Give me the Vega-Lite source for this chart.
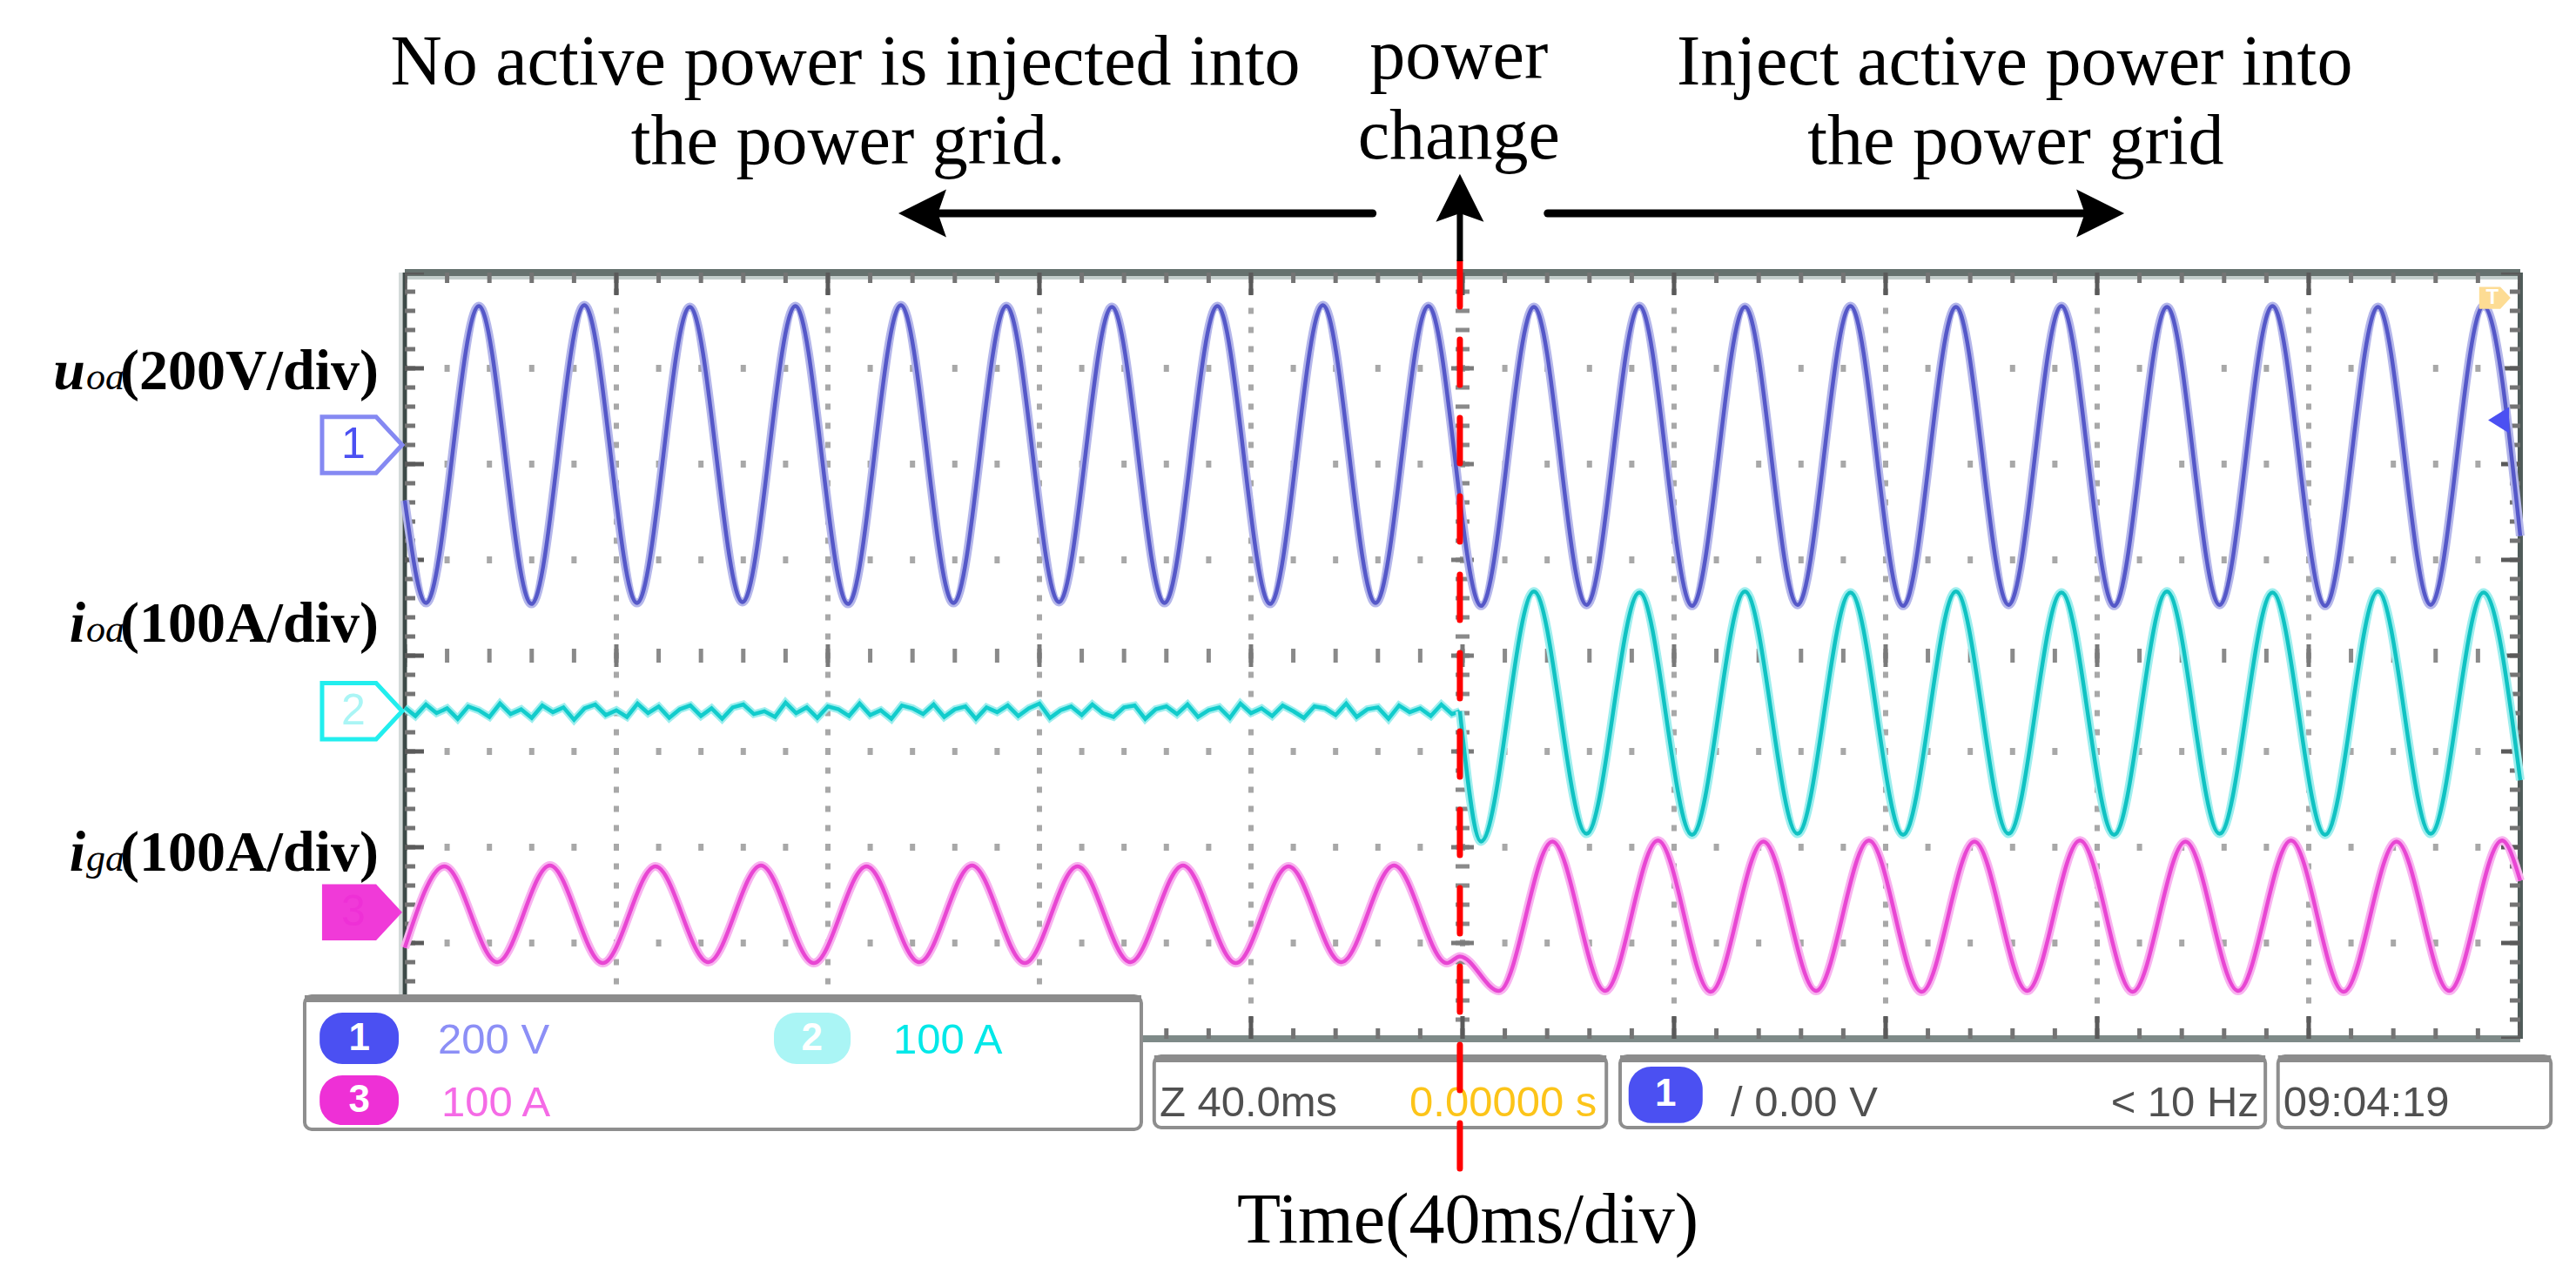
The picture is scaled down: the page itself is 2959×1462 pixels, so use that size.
{
"$schema":"https://vega.github.io/schema/vega-lite/v6.json",
"width":2959,"height":1462,
"autosize":{"type":"fit","contains":"padding"},
"padding":0,
"background":"white",
"config":{"view":{"stroke":null}},
"datasets":{
"vgrid":[{"t":40},{"t":80},{"t":120},{"t":160},{"t":240},{"t":280},{"t":320},{"t":360}],
"hgrid":[{"v":1},{"v":2},{"v":3},{"v":5},{"v":6},{"v":7}],
"center":[{"t":200,"v":4}],
"frame":[{"t0":0,"t1":400,"v0":0,"v1":8}],
"uoa":[{"t":0,"v":5.62},{"t":4.0,"v":4.55},{"t":14.0,"v":7.65},{"t":23.95,"v":4.54},{"t":33.95,"v":7.66},{"t":43.9,"v":4.55},{"t":53.9,"v":7.64},{"t":63.85,"v":4.56},{"t":73.85,"v":7.65},{"t":83.8,"v":4.54},{"t":93.8,"v":7.66},{"t":103.75,"v":4.55},{"t":113.75,"v":7.65},{"t":123.7,"v":4.56},{"t":133.7,"v":7.64},{"t":143.65,"v":4.55},{"t":153.65,"v":7.65},{"t":163.6,"v":4.54},{"t":173.6,"v":7.66},{"t":183.55,"v":4.55},{"t":193.55,"v":7.65},{"t":203.5,"v":4.52},{"t":213.5,"v":7.64},{"t":223.45,"v":4.53},{"t":233.45,"v":7.65},{"t":243.4,"v":4.52},{"t":253.4,"v":7.64},{"t":263.35,"v":4.53},{"t":273.35,"v":7.65},{"t":283.3,"v":4.52},{"t":293.3,"v":7.64},{"t":303.25,"v":4.53},{"t":313.25,"v":7.65},{"t":323.2,"v":4.52},{"t":333.2,"v":7.64},{"t":343.15,"v":4.53},{"t":353.15,"v":7.65},{"t":363.1,"v":4.52},{"t":373.1,"v":7.64},{"t":383.05,"v":4.53},{"t":393.05,"v":7.65},{"t":400,"v":5.25}],
"ioa_flat":[{"t":0,"v":3.46},{"t":2,"v":3.37},{"t":4,"v":3.49},{"t":6,"v":3.40},{"t":8,"v":3.45},{"t":10,"v":3.34},{"t":12,"v":3.47},{"t":14,"v":3.43},{"t":16,"v":3.36},{"t":18,"v":3.50},{"t":20,"v":3.39},{"t":22,"v":3.44},{"t":24,"v":3.35},{"t":26,"v":3.48},{"t":28,"v":3.41},{"t":30,"v":3.46},{"t":32,"v":3.33},{"t":34,"v":3.45},{"t":36,"v":3.49},{"t":38,"v":3.38},{"t":40,"v":3.43},{"t":42,"v":3.36},{"t":44,"v":3.50},{"t":46,"v":3.40},{"t":48,"v":3.47},{"t":50,"v":3.35},{"t":52,"v":3.44},{"t":54,"v":3.48},{"t":56,"v":3.37},{"t":58,"v":3.45},{"t":60,"v":3.34},{"t":62,"v":3.46},{"t":64,"v":3.49},{"t":66,"v":3.39},{"t":68,"v":3.42},{"t":70,"v":3.36},{"t":72,"v":3.51},{"t":74,"v":3.40},{"t":76,"v":3.46},{"t":78,"v":3.35},{"t":80,"v":3.47},{"t":82,"v":3.44},{"t":84,"v":3.37},{"t":86,"v":3.50},{"t":88,"v":3.38},{"t":90,"v":3.43},{"t":92,"v":3.34},{"t":94,"v":3.48},{"t":96,"v":3.45},{"t":98,"v":3.39},{"t":100,"v":3.49},{"t":102,"v":3.36},{"t":104,"v":3.44},{"t":106,"v":3.47},{"t":108,"v":3.34},{"t":110,"v":3.46},{"t":112,"v":3.41},{"t":114,"v":3.48},{"t":116,"v":3.37},{"t":118,"v":3.45},{"t":120,"v":3.50},{"t":122,"v":3.35},{"t":124,"v":3.43},{"t":126,"v":3.47},{"t":128,"v":3.38},{"t":130,"v":3.49},{"t":132,"v":3.40},{"t":134,"v":3.36},{"t":136,"v":3.46},{"t":138,"v":3.48},{"t":140,"v":3.34},{"t":142,"v":3.44},{"t":144,"v":3.47},{"t":146,"v":3.39},{"t":148,"v":3.49},{"t":150,"v":3.36},{"t":152,"v":3.43},{"t":154,"v":3.46},{"t":156,"v":3.35},{"t":158,"v":3.50},{"t":160,"v":3.40},{"t":162,"v":3.45},{"t":164,"v":3.37},{"t":166,"v":3.48},{"t":168,"v":3.42},{"t":170,"v":3.35},{"t":172,"v":3.47},{"t":174,"v":3.45},{"t":176,"v":3.38},{"t":178,"v":3.50},{"t":180,"v":3.36},{"t":182,"v":3.44},{"t":184,"v":3.46},{"t":186,"v":3.34},{"t":188,"v":3.48},{"t":190,"v":3.41},{"t":192,"v":3.45},{"t":194,"v":3.37},{"t":196,"v":3.49},{"t":198,"v":3.39},{"t":199.5,"v":3.42}],
"ioa_wave":[{"t":199.5,"v":3.42},{"t":203.5,"v":2.06},{"t":213.5,"v":4.67},{"t":223.45,"v":2.14},{"t":233.45,"v":4.66},{"t":243.4,"v":2.13},{"t":253.4,"v":4.67},{"t":263.35,"v":2.14},{"t":273.35,"v":4.66},{"t":283.3,"v":2.13},{"t":293.3,"v":4.67},{"t":303.25,"v":2.14},{"t":313.25,"v":4.66},{"t":323.2,"v":2.13},{"t":333.2,"v":4.67},{"t":343.15,"v":2.14},{"t":353.15,"v":4.66},{"t":363.1,"v":2.13},{"t":373.1,"v":4.67},{"t":383.05,"v":2.14},{"t":393.05,"v":4.66},{"t":400,"v":2.70}],
"iga":[{"t":0,"v":0.95},{"t":7.5,"v":1.80},{"t":17.48,"v":0.80},{"t":27.45,"v":1.81},{"t":37.43,"v":0.79},{"t":47.4,"v":1.80},{"t":57.38,"v":0.80},{"t":67.35,"v":1.81},{"t":77.33,"v":0.79},{"t":87.3,"v":1.80},{"t":97.28,"v":0.80},{"t":107.25,"v":1.81},{"t":117.23,"v":0.79},{"t":127.2,"v":1.80},{"t":137.18,"v":0.80},{"t":147.15,"v":1.81},{"t":157.13,"v":0.79},{"t":167.1,"v":1.80},{"t":177.08,"v":0.80},{"t":187.05,"v":1.81},{"t":197.03,"v":0.79},{"t":199.5,"v":0.86},{"t":206.9,"v":0.50},{"t":217.0,"v":2.06},{"t":226.95,"v":0.50},{"t":236.95,"v":2.07},{"t":246.9,"v":0.49},{"t":256.9,"v":2.06},{"t":266.85,"v":0.50},{"t":276.85,"v":2.07},{"t":286.8,"v":0.49},{"t":296.8,"v":2.06},{"t":306.75,"v":0.50},{"t":316.75,"v":2.07},{"t":326.7,"v":0.49},{"t":336.7,"v":2.06},{"t":346.65,"v":0.50},{"t":356.65,"v":2.07},{"t":366.6,"v":0.49},{"t":376.6,"v":2.06},{"t":386.55,"v":0.50},{"t":396.55,"v":2.07},{"t":400,"v":1.65}],
"change":[{"t":199.5,"v0":-1.409,"v1":8.118}],
"vshaft":[{"t":199.5,"v0":8.118,"v1":8.75}],
"hshaft":[{"t":100.0,"t2":183.0,"v":8.618},{"t":216.1,"t2":318.5,"v":8.618}],
"heads":[{"t":97.86,"v":8.618,"dir":"left"},{"t":320.6,"v":8.618,"dir":"right"},{"t":199.5,"v":8.78,"dir":"up"}],
"boxes":[{"t":-18.93,"t2":139.26,"v":0.445,"v2":-0.945},{"t":141.7,"t2":227.2,"v":-0.182,"v2":-0.927},{"t":229.8,"t2":351.8,"v":-0.182,"v2":-0.927},{"t":354.2,"t2":405.8,"v":-0.182,"v2":-0.927}],
"badges":[{"t":-16.1,"t2":-1.15,"v":0.273,"v2":-0.264,"tc":-8.6,"vc":0.0,"c":"b1","d":"1"},{"t":69.8,"t2":84.3,"v":0.273,"v2":-0.264,"tc":77.0,"vc":0.0,"c":"b2","d":"2"},{"t":-16.1,"t2":-1.15,"v":-0.382,"v2":-0.9,"tc":-8.6,"vc":-0.641,"c":"b3","d":"3"},{"t":231.4,"t2":245.4,"v":-0.29,"v2":-0.88,"tc":238.4,"vc":-0.585,"c":"b1","d":"1"}],
"stext_l":[{"t":6.26,"v":-0.155,"text":"200 V","c":"blue"},{"t":92.35,"v":-0.155,"text":"100 A","c":"cyan"},{"t":6.9,"v":-0.809,"text":"100 A","c":"pink"},{"t":142.7,"v":-0.809,"text":"Z 40.0ms","c":"gray"},{"t":250.7,"v":-0.809,"text":"/ 0.00 V","c":"gray"},{"t":355.2,"v":-0.809,"text":"09:04:19","c":"gray"}],
"stext_r":[{"t":225.4,"v":-0.809,"text":"0.00000 s","c":"yellow"},{"t":350.6,"v":-0.809,"text":"< 10 Hz","c":"gray"}],
"markers":[{"t":-8.07,"v":6.2,"d":"1"},{"t":-8.07,"v":3.42,"d":"2"},{"t":-8.07,"v":1.32,"d":"3"}],
"lab_main":[{"t":-4.94,"v":6.78,"text":"(200V/div)"},{"t":-4.94,"v":4.145,"text":"(100A/div)"},{"t":-4.94,"v":1.755,"text":"(100A/div)"}],
"lab_sub":[{"t":-53.0,"v":6.78,"text":"oa"},{"t":-53.0,"v":4.145,"text":"oa"},{"t":-53.0,"v":1.755,"text":"ga"}],
"lab_sym":[{"t":-60.4,"v":6.78,"text":"u"},{"t":-60.4,"v":4.145,"text":"i"},{"t":-60.4,"v":1.755,"text":"i"}],
"annot":[{"t":83.3,"v":9.964,"text":"No active power is injected into"},{"t":83.8,"v":9.136,"text":"the power grid."},{"t":199.3,"v":10.027,"text":"power"},{"t":199.3,"v":9.19,"text":"change"},{"t":304.4,"v":9.964,"text":"Inject active power into"},{"t":304.6,"v":9.136,"text":"the power grid"},{"t":201.0,"v":-2.127,"text":"Time(40ms/div)"}],
"trig":[{"t":395.2,"v":7.736}],
"ref1":[{"t":396.4,"v":6.46}]
},
"layer":[
{"data":{"name":"vgrid"},"mark":{"type":"rule","strokeWidth":6,"strokeDash":[7,15],"strokeDashOffset":3.5,"color":"#a8a8a8"},
 "encoding":{"x":{"field":"t","type":"quantitative","scale":{"domain":[-76.54,410.54],"nice":false,"zero":false},"axis":null},"y":{"datum":0,"type":"quantitative","scale":{"domain":[-2.4455,10.8455],"nice":false,"zero":false},"axis":null},"y2":{"datum":8}}},
{"data":{"name":"hgrid"},"mark":{"type":"rule","strokeWidth":8,"strokeDash":[6,42.6],"strokeDashOffset":3,"color":"#a8a8a8"},
 "encoding":{"x":{"datum":0,"type":"quantitative","scale":{"domain":[-76.54,410.54],"nice":false,"zero":false},"axis":null},"x2":{"datum":400},"y":{"field":"v","type":"quantitative","scale":{"domain":[-2.4455,10.8455],"nice":false,"zero":false},"axis":null}}},
{"data":{"name":"center"},"mark":{"type":"rule","strokeWidth":16,"strokeDash":[5,17],"strokeDashOffset":2.5,"color":"#8a8a8a"},
 "encoding":{"x":{"field":"t","type":"quantitative","scale":{"domain":[-76.54,410.54],"nice":false,"zero":false},"axis":null},"y":{"datum":0,"type":"quantitative","scale":{"domain":[-2.4455,10.8455],"nice":false,"zero":false},"axis":null},"y2":{"datum":8}}},
{"data":{"name":"center"},"mark":{"type":"rule","strokeWidth":26,"strokeDash":[5,105],"strokeDashOffset":2.5,"color":"#7a7a7a"},
 "encoding":{"x":{"field":"t","type":"quantitative","scale":{"domain":[-76.54,410.54],"nice":false,"zero":false},"axis":null},"y":{"datum":0,"type":"quantitative","scale":{"domain":[-2.4455,10.8455],"nice":false,"zero":false},"axis":null},"y2":{"datum":8}}},
{"data":{"name":"center"},"mark":{"type":"rule","strokeWidth":16,"strokeDash":[5,43.6],"strokeDashOffset":2.5,"color":"#8a8a8a"},
 "encoding":{"x":{"datum":0,"type":"quantitative","scale":{"domain":[-76.54,410.54],"nice":false,"zero":false},"axis":null},"x2":{"datum":400},"y":{"field":"v","type":"quantitative","scale":{"domain":[-2.4455,10.8455],"nice":false,"zero":false},"axis":null}}},
{"data":{"name":"center"},"mark":{"type":"rule","strokeWidth":26,"strokeDash":[5,238],"strokeDashOffset":2.5,"color":"#7a7a7a"},
 "encoding":{"x":{"datum":0,"type":"quantitative","scale":{"domain":[-76.54,410.54],"nice":false,"zero":false},"axis":null},"x2":{"datum":400},"y":{"field":"v","type":"quantitative","scale":{"domain":[-2.4455,10.8455],"nice":false,"zero":false},"axis":null}}},
{"data":{"name":"frame"},"mark":{"type":"rule","strokeWidth":8,"color":"#66726f"},
 "encoding":{"x":{"field":"t0","type":"quantitative","scale":{"domain":[-76.54,410.54],"nice":false,"zero":false},"axis":null},"x2":{"field":"t1"},"y":{"field":"v1","type":"quantitative","scale":{"domain":[-2.4455,10.8455],"nice":false,"zero":false},"axis":null}}},
{"data":{"name":"frame"},"mark":{"type":"rule","strokeWidth":4,"yOffset":6,"color":"#c4cecc"},
 "encoding":{"x":{"field":"t0","type":"quantitative","scale":{"domain":[-76.54,410.54],"nice":false,"zero":false},"axis":null},"x2":{"field":"t1"},"y":{"field":"v1","type":"quantitative","scale":{"domain":[-2.4455,10.8455],"nice":false,"zero":false},"axis":null}}},
{"data":{"name":"frame"},"mark":{"type":"rule","strokeWidth":8,"color":"#7e8a88"},
 "encoding":{"x":{"field":"t0","type":"quantitative","scale":{"domain":[-76.54,410.54],"nice":false,"zero":false},"axis":null},"x2":{"field":"t1"},"y":{"field":"v0","type":"quantitative","scale":{"domain":[-2.4455,10.8455],"nice":false,"zero":false},"axis":null}}},
{"data":{"name":"frame"},"mark":{"type":"rule","strokeWidth":5,"color":"#3d4a48"},
 "encoding":{"x":{"field":"t0","type":"quantitative","scale":{"domain":[-76.54,410.54],"nice":false,"zero":false},"axis":null},"y":{"field":"v0","type":"quantitative","scale":{"domain":[-2.4455,10.8455],"nice":false,"zero":false},"axis":null},"y2":{"field":"v1"}}},
{"data":{"name":"frame"},"mark":{"type":"rule","strokeWidth":4,"xOffset":-5,"color":"#d3dad9"},
 "encoding":{"x":{"field":"t0","type":"quantitative","scale":{"domain":[-76.54,410.54],"nice":false,"zero":false},"axis":null},"y":{"field":"v0","type":"quantitative","scale":{"domain":[-2.4455,10.8455],"nice":false,"zero":false},"axis":null},"y2":{"field":"v1"}}},
{"data":{"name":"frame"},"mark":{"type":"rule","strokeWidth":6,"color":"#4f5b59"},
 "encoding":{"x":{"field":"t1","type":"quantitative","scale":{"domain":[-76.54,410.54],"nice":false,"zero":false},"axis":null},"y":{"field":"v0","type":"quantitative","scale":{"domain":[-2.4455,10.8455],"nice":false,"zero":false},"axis":null},"y2":{"field":"v1"}}},
{"data":{"name":"frame"},"mark":{"type":"rule","strokeWidth":12,"yOffset":6,"strokeDash":[5,43.6],"strokeDashOffset":2.5,"color":"#747474"},
 "encoding":{"x":{"field":"t0","type":"quantitative","scale":{"domain":[-76.54,410.54],"nice":false,"zero":false},"axis":null},"x2":{"field":"t1"},"y":{"field":"v1","type":"quantitative","scale":{"domain":[-2.4455,10.8455],"nice":false,"zero":false},"axis":null}}},
{"data":{"name":"frame"},"mark":{"type":"rule","strokeWidth":26,"yOffset":13,"strokeDash":[5,238],"strokeDashOffset":2.5,"color":"#5a5a5a"},
 "encoding":{"x":{"field":"t0","type":"quantitative","scale":{"domain":[-76.54,410.54],"nice":false,"zero":false},"axis":null},"x2":{"field":"t1"},"y":{"field":"v1","type":"quantitative","scale":{"domain":[-2.4455,10.8455],"nice":false,"zero":false},"axis":null}}},
{"data":{"name":"frame"},"mark":{"type":"rule","strokeWidth":12,"yOffset":-6,"strokeDash":[5,43.6],"strokeDashOffset":2.5,"color":"#747474"},
 "encoding":{"x":{"field":"t0","type":"quantitative","scale":{"domain":[-76.54,410.54],"nice":false,"zero":false},"axis":null},"x2":{"field":"t1"},"y":{"field":"v0","type":"quantitative","scale":{"domain":[-2.4455,10.8455],"nice":false,"zero":false},"axis":null}}},
{"data":{"name":"frame"},"mark":{"type":"rule","strokeWidth":26,"yOffset":-13,"strokeDash":[5,238],"strokeDashOffset":2.5,"color":"#5a5a5a"},
 "encoding":{"x":{"field":"t0","type":"quantitative","scale":{"domain":[-76.54,410.54],"nice":false,"zero":false},"axis":null},"x2":{"field":"t1"},"y":{"field":"v0","type":"quantitative","scale":{"domain":[-2.4455,10.8455],"nice":false,"zero":false},"axis":null}}},
{"data":{"name":"frame"},"mark":{"type":"rule","strokeWidth":12,"xOffset":6,"strokeDash":[5,17],"strokeDashOffset":2.5,"color":"#747474"},
 "encoding":{"x":{"field":"t0","type":"quantitative","scale":{"domain":[-76.54,410.54],"nice":false,"zero":false},"axis":null},"y":{"field":"v0","type":"quantitative","scale":{"domain":[-2.4455,10.8455],"nice":false,"zero":false},"axis":null},"y2":{"field":"v1"}}},
{"data":{"name":"frame"},"mark":{"type":"rule","strokeWidth":22,"xOffset":11,"strokeDash":[5,105],"strokeDashOffset":2.5,"color":"#5a5a5a"},
 "encoding":{"x":{"field":"t0","type":"quantitative","scale":{"domain":[-76.54,410.54],"nice":false,"zero":false},"axis":null},"y":{"field":"v0","type":"quantitative","scale":{"domain":[-2.4455,10.8455],"nice":false,"zero":false},"axis":null},"y2":{"field":"v1"}}},
{"data":{"name":"frame"},"mark":{"type":"rule","strokeWidth":12,"xOffset":-6,"strokeDash":[5,17],"strokeDashOffset":2.5,"color":"#747474"},
 "encoding":{"x":{"field":"t1","type":"quantitative","scale":{"domain":[-76.54,410.54],"nice":false,"zero":false},"axis":null},"y":{"field":"v0","type":"quantitative","scale":{"domain":[-2.4455,10.8455],"nice":false,"zero":false},"axis":null},"y2":{"field":"v1"}}},
{"data":{"name":"frame"},"mark":{"type":"rule","strokeWidth":22,"xOffset":-11,"strokeDash":[5,105],"strokeDashOffset":2.5,"color":"#5a5a5a"},
 "encoding":{"x":{"field":"t1","type":"quantitative","scale":{"domain":[-76.54,410.54],"nice":false,"zero":false},"axis":null},"y":{"field":"v0","type":"quantitative","scale":{"domain":[-2.4455,10.8455],"nice":false,"zero":false},"axis":null},"y2":{"field":"v1"}}},
{"data":{"name":"uoa"},"mark":{"type":"line","interpolate":"monotone","strokeWidth":10,"color":"#b4b6ea"},
 "encoding":{"x":{"field":"t","type":"quantitative","scale":{"domain":[-76.54,410.54],"nice":false,"zero":false},"axis":null},"y":{"field":"v","type":"quantitative","scale":{"domain":[-2.4455,10.8455],"nice":false,"zero":false},"axis":null}}},
{"data":{"name":"uoa"},"mark":{"type":"line","interpolate":"monotone","strokeWidth":4.5,"color":"#5558c8"},
 "encoding":{"x":{"field":"t","type":"quantitative","scale":{"domain":[-76.54,410.54],"nice":false,"zero":false},"axis":null},"y":{"field":"v","type":"quantitative","scale":{"domain":[-2.4455,10.8455],"nice":false,"zero":false},"axis":null}}},
{"data":{"name":"ioa_flat"},"mark":{"type":"line","strokeWidth":9,"color":"#9eeeee"},
 "encoding":{"x":{"field":"t","type":"quantitative","scale":{"domain":[-76.54,410.54],"nice":false,"zero":false},"axis":null},"y":{"field":"v","type":"quantitative","scale":{"domain":[-2.4455,10.8455],"nice":false,"zero":false},"axis":null}}},
{"data":{"name":"ioa_flat"},"mark":{"type":"line","strokeWidth":4.5,"color":"#12cccc"},
 "encoding":{"x":{"field":"t","type":"quantitative","scale":{"domain":[-76.54,410.54],"nice":false,"zero":false},"axis":null},"y":{"field":"v","type":"quantitative","scale":{"domain":[-2.4455,10.8455],"nice":false,"zero":false},"axis":null}}},
{"data":{"name":"ioa_wave"},"mark":{"type":"line","interpolate":"monotone","strokeWidth":10,"color":"#9eeeee"},
 "encoding":{"x":{"field":"t","type":"quantitative","scale":{"domain":[-76.54,410.54],"nice":false,"zero":false},"axis":null},"y":{"field":"v","type":"quantitative","scale":{"domain":[-2.4455,10.8455],"nice":false,"zero":false},"axis":null}}},
{"data":{"name":"ioa_wave"},"mark":{"type":"line","interpolate":"monotone","strokeWidth":4.5,"color":"#10c2c2"},
 "encoding":{"x":{"field":"t","type":"quantitative","scale":{"domain":[-76.54,410.54],"nice":false,"zero":false},"axis":null},"y":{"field":"v","type":"quantitative","scale":{"domain":[-2.4455,10.8455],"nice":false,"zero":false},"axis":null}}},
{"data":{"name":"iga"},"mark":{"type":"line","interpolate":"monotone","strokeWidth":10,"color":"#f8b2ef"},
 "encoding":{"x":{"field":"t","type":"quantitative","scale":{"domain":[-76.54,410.54],"nice":false,"zero":false},"axis":null},"y":{"field":"v","type":"quantitative","scale":{"domain":[-2.4455,10.8455],"nice":false,"zero":false},"axis":null}}},
{"data":{"name":"iga"},"mark":{"type":"line","interpolate":"monotone","strokeWidth":4.5,"color":"#e846d3"},
 "encoding":{"x":{"field":"t","type":"quantitative","scale":{"domain":[-76.54,410.54],"nice":false,"zero":false},"axis":null},"y":{"field":"v","type":"quantitative","scale":{"domain":[-2.4455,10.8455],"nice":false,"zero":false},"axis":null}}},
{"data":{"name":"trig"},"mark":{"type":"point","filled":true,"opacity":1,"size":1296,"color":"#fddc94","shape":"M -1 -0.7 L 0.35 -0.7 L 1 0 L 0.35 0.7 L -1 0.7 Z"},
 "encoding":{"x":{"field":"t","type":"quantitative","scale":{"domain":[-76.54,410.54],"nice":false,"zero":false},"axis":null},"y":{"field":"v","type":"quantitative","scale":{"domain":[-2.4455,10.8455],"nice":false,"zero":false},"axis":null}}},
{"data":{"name":"trig"},"mark":{"type":"text","text":"T","dx":-3,"fontSize":24,"fontWeight":"bold","font":"Liberation Sans","color":"white","align":"center","baseline":"middle"},
 "encoding":{"x":{"field":"t","type":"quantitative","scale":{"domain":[-76.54,410.54],"nice":false,"zero":false},"axis":null},"y":{"field":"v","type":"quantitative","scale":{"domain":[-2.4455,10.8455],"nice":false,"zero":false},"axis":null}}},
{"data":{"name":"ref1"},"mark":{"type":"point","filled":true,"opacity":1,"size":900,"color":"#4b50f2","shape":"M -1 0 L 0.6 -1 L 0.6 1 Z"},
 "encoding":{"x":{"field":"t","type":"quantitative","scale":{"domain":[-76.54,410.54],"nice":false,"zero":false},"axis":null},"y":{"field":"v","type":"quantitative","scale":{"domain":[-2.4455,10.8455],"nice":false,"zero":false},"axis":null}}},
{"data":{"name":"boxes"},"mark":{"type":"rect","fill":"white","stroke":"#8e8e8e","strokeWidth":4,"cornerRadius":8},
 "encoding":{"x":{"field":"t","type":"quantitative","scale":{"domain":[-76.54,410.54],"nice":false,"zero":false},"axis":null},"x2":{"field":"t2"},"y":{"field":"v","type":"quantitative","scale":{"domain":[-2.4455,10.8455],"nice":false,"zero":false},"axis":null},"y2":{"field":"v2"}}},
{"data":{"name":"boxes"},"mark":{"type":"rule","strokeWidth":8,"yOffset":3,"color":"#8c8c8c"},
 "encoding":{"x":{"field":"t","type":"quantitative","scale":{"domain":[-76.54,410.54],"nice":false,"zero":false},"axis":null},"x2":{"field":"t2"},"y":{"field":"v","type":"quantitative","scale":{"domain":[-2.4455,10.8455],"nice":false,"zero":false},"axis":null}}},
{"data":{"name":"badges"},"mark":{"type":"rect","cornerRadius":26},
 "encoding":{"x":{"field":"t","type":"quantitative","scale":{"domain":[-76.54,410.54],"nice":false,"zero":false},"axis":null},"x2":{"field":"t2"},"y":{"field":"v","type":"quantitative","scale":{"domain":[-2.4455,10.8455],"nice":false,"zero":false},"axis":null},"y2":{"field":"v2"},
  "color":{"field":"c","type":"nominal","scale":{"domain":["b1","b2","b3","blue","cyan","pink","gray","yellow"],"range":["#4b50f2","#aaf5f5","#ee30d6","#8c8ff6","#00e8e8","#f56be6","#505050","#fcc419"]},"legend":null}}},
{"data":{"name":"badges"},"mark":{"type":"text","fontSize":44,"fontWeight":"bold","font":"Liberation Sans","color":"white","align":"center","baseline":"middle"},
 "encoding":{"x":{"field":"tc","type":"quantitative","scale":{"domain":[-76.54,410.54],"nice":false,"zero":false},"axis":null},"y":{"field":"vc","type":"quantitative","scale":{"domain":[-2.4455,10.8455],"nice":false,"zero":false},"axis":null},"text":{"field":"d"}}},
{"data":{"name":"stext_l"},"mark":{"type":"text","fontSize":49,"font":"Liberation Sans","align":"left","baseline":"alphabetic"},
 "encoding":{"x":{"field":"t","type":"quantitative","scale":{"domain":[-76.54,410.54],"nice":false,"zero":false},"axis":null},"y":{"field":"v","type":"quantitative","scale":{"domain":[-2.4455,10.8455],"nice":false,"zero":false},"axis":null},"text":{"field":"text"},
  "color":{"field":"c","type":"nominal","scale":{"domain":["b1","b2","b3","blue","cyan","pink","gray","yellow"],"range":["#4b50f2","#aaf5f5","#ee30d6","#8c8ff6","#00e8e8","#f56be6","#505050","#fcc419"]},"legend":null}}},
{"data":{"name":"stext_r"},"mark":{"type":"text","fontSize":49,"font":"Liberation Sans","align":"right","baseline":"alphabetic"},
 "encoding":{"x":{"field":"t","type":"quantitative","scale":{"domain":[-76.54,410.54],"nice":false,"zero":false},"axis":null},"y":{"field":"v","type":"quantitative","scale":{"domain":[-2.4455,10.8455],"nice":false,"zero":false},"axis":null},"text":{"field":"text"},
  "color":{"field":"c","type":"nominal","scale":{"domain":["b1","b2","b3","blue","cyan","pink","gray","yellow"],"range":["#4b50f2","#aaf5f5","#ee30d6","#8c8ff6","#00e8e8","#f56be6","#505050","#fcc419"]},"legend":null}}},
{"data":{"name":"markers"},"transform":[{"filter":"datum.d == '1'"}],"mark":{"type":"point","filled":false,"opacity":1,"size":8464,"fill":"white","fillOpacity":1,"stroke":"#8589f2","strokeWidth":5,"shape":"M -1 -0.7 L 0.35 -0.7 L 1 0 L 0.35 0.7 L -1 0.7 Z"},
 "encoding":{"x":{"field":"t","type":"quantitative","scale":{"domain":[-76.54,410.54],"nice":false,"zero":false},"axis":null},"y":{"field":"v","type":"quantitative","scale":{"domain":[-2.4455,10.8455],"nice":false,"zero":false},"axis":null}}},
{"data":{"name":"markers"},"transform":[{"filter":"datum.d == '2'"}],"mark":{"type":"point","filled":false,"opacity":1,"size":8464,"fill":"white","fillOpacity":1,"stroke":"#22eeee","strokeWidth":5,"shape":"M -1 -0.7 L 0.35 -0.7 L 1 0 L 0.35 0.7 L -1 0.7 Z"},
 "encoding":{"x":{"field":"t","type":"quantitative","scale":{"domain":[-76.54,410.54],"nice":false,"zero":false},"axis":null},"y":{"field":"v","type":"quantitative","scale":{"domain":[-2.4455,10.8455],"nice":false,"zero":false},"axis":null}}},
{"data":{"name":"markers"},"transform":[{"filter":"datum.d == '3'"}],"mark":{"type":"point","filled":true,"opacity":1,"size":8464,"color":"#f03ad8","shape":"M -1 -0.7 L 0.35 -0.7 L 1 0 L 0.35 0.7 L -1 0.7 Z"},
 "encoding":{"x":{"field":"t","type":"quantitative","scale":{"domain":[-76.54,410.54],"nice":false,"zero":false},"axis":null},"y":{"field":"v","type":"quantitative","scale":{"domain":[-2.4455,10.8455],"nice":false,"zero":false},"axis":null}}},
{"data":{"name":"markers"},"mark":{"type":"text","dx":-10,"fontSize":50,"font":"Liberation Sans","align":"center","baseline":"middle"},
 "encoding":{"x":{"field":"t","type":"quantitative","scale":{"domain":[-76.54,410.54],"nice":false,"zero":false},"axis":null},"y":{"field":"v","type":"quantitative","scale":{"domain":[-2.4455,10.8455],"nice":false,"zero":false},"axis":null},"text":{"field":"d"},
  "color":{"field":"d","type":"nominal","scale":{"domain":["1","2","3"],"range":["#6468f0","#22e2e2","#ffc8f4"]},"legend":null}}},
{"data":{"name":"lab_main"},"mark":{"type":"text","fontSize":66,"fontWeight":"bold","font":"Liberation Serif","color":"black","align":"right","baseline":"alphabetic"},
 "encoding":{"x":{"field":"t","type":"quantitative","scale":{"domain":[-76.54,410.54],"nice":false,"zero":false},"axis":null},"y":{"field":"v","type":"quantitative","scale":{"domain":[-2.4455,10.8455],"nice":false,"zero":false},"axis":null},"text":{"field":"text"}}},
{"data":{"name":"lab_sub"},"mark":{"type":"text","fontSize":44,"fontStyle":"italic","font":"Liberation Serif","color":"black","align":"right","baseline":"alphabetic"},
 "encoding":{"x":{"field":"t","type":"quantitative","scale":{"domain":[-76.54,410.54],"nice":false,"zero":false},"axis":null},"y":{"field":"v","type":"quantitative","scale":{"domain":[-2.4455,10.8455],"nice":false,"zero":false},"axis":null},"text":{"field":"text"}}},
{"data":{"name":"lab_sym"},"mark":{"type":"text","fontSize":66,"fontStyle":"italic","fontWeight":"bold","font":"Liberation Serif","color":"black","align":"right","baseline":"alphabetic"},
 "encoding":{"x":{"field":"t","type":"quantitative","scale":{"domain":[-76.54,410.54],"nice":false,"zero":false},"axis":null},"y":{"field":"v","type":"quantitative","scale":{"domain":[-2.4455,10.8455],"nice":false,"zero":false},"axis":null},"text":{"field":"text"}}},
{"data":{"name":"annot"},"mark":{"type":"text","fontSize":82,"font":"Liberation Serif","color":"black","align":"center","baseline":"alphabetic"},
 "encoding":{"x":{"field":"t","type":"quantitative","scale":{"domain":[-76.54,410.54],"nice":false,"zero":false},"axis":null},"y":{"field":"v","type":"quantitative","scale":{"domain":[-2.4455,10.8455],"nice":false,"zero":false},"axis":null},"text":{"field":"text"}}},
{"data":{"name":"change"},"mark":{"type":"rule","strokeWidth":7,"strokeDash":[52,38],"strokeCap":"round","color":"#ff0000"},
 "encoding":{"x":{"field":"t","type":"quantitative","scale":{"domain":[-76.54,410.54],"nice":false,"zero":false},"axis":null},"y":{"field":"v1","type":"quantitative","scale":{"domain":[-2.4455,10.8455],"nice":false,"zero":false},"axis":null},"y2":{"field":"v0"}}},
{"data":{"name":"vshaft"},"mark":{"type":"rule","strokeWidth":7,"color":"black"},
 "encoding":{"x":{"field":"t","type":"quantitative","scale":{"domain":[-76.54,410.54],"nice":false,"zero":false},"axis":null},"y":{"field":"v0","type":"quantitative","scale":{"domain":[-2.4455,10.8455],"nice":false,"zero":false},"axis":null},"y2":{"field":"v1"}}},
{"data":{"name":"hshaft"},"mark":{"type":"rule","strokeWidth":9,"strokeCap":"round","color":"black"},
 "encoding":{"x":{"field":"t","type":"quantitative","scale":{"domain":[-76.54,410.54],"nice":false,"zero":false},"axis":null},"x2":{"field":"t2"},"y":{"field":"v","type":"quantitative","scale":{"domain":[-2.4455,10.8455],"nice":false,"zero":false},"axis":null}}},
{"data":{"name":"heads"},"mark":{"type":"point","filled":true,"opacity":1,"size":3025,"color":"black"},
 "encoding":{"x":{"field":"t","type":"quantitative","scale":{"domain":[-76.54,410.54],"nice":false,"zero":false},"axis":null},"y":{"field":"v","type":"quantitative","scale":{"domain":[-2.4455,10.8455],"nice":false,"zero":false},"axis":null},
  "shape":{"field":"dir","type":"nominal","scale":{"domain":["left","right","up"],"range":["M -1 0 L 1 -1 L 0.65 0 L 1 1 Z","M 1 0 L -1 -1 L -0.65 0 L -1 1 Z","M 0 -1 L 1 1 L 0 0.65 L -1 1 Z"]},"legend":null}}}
]
}
